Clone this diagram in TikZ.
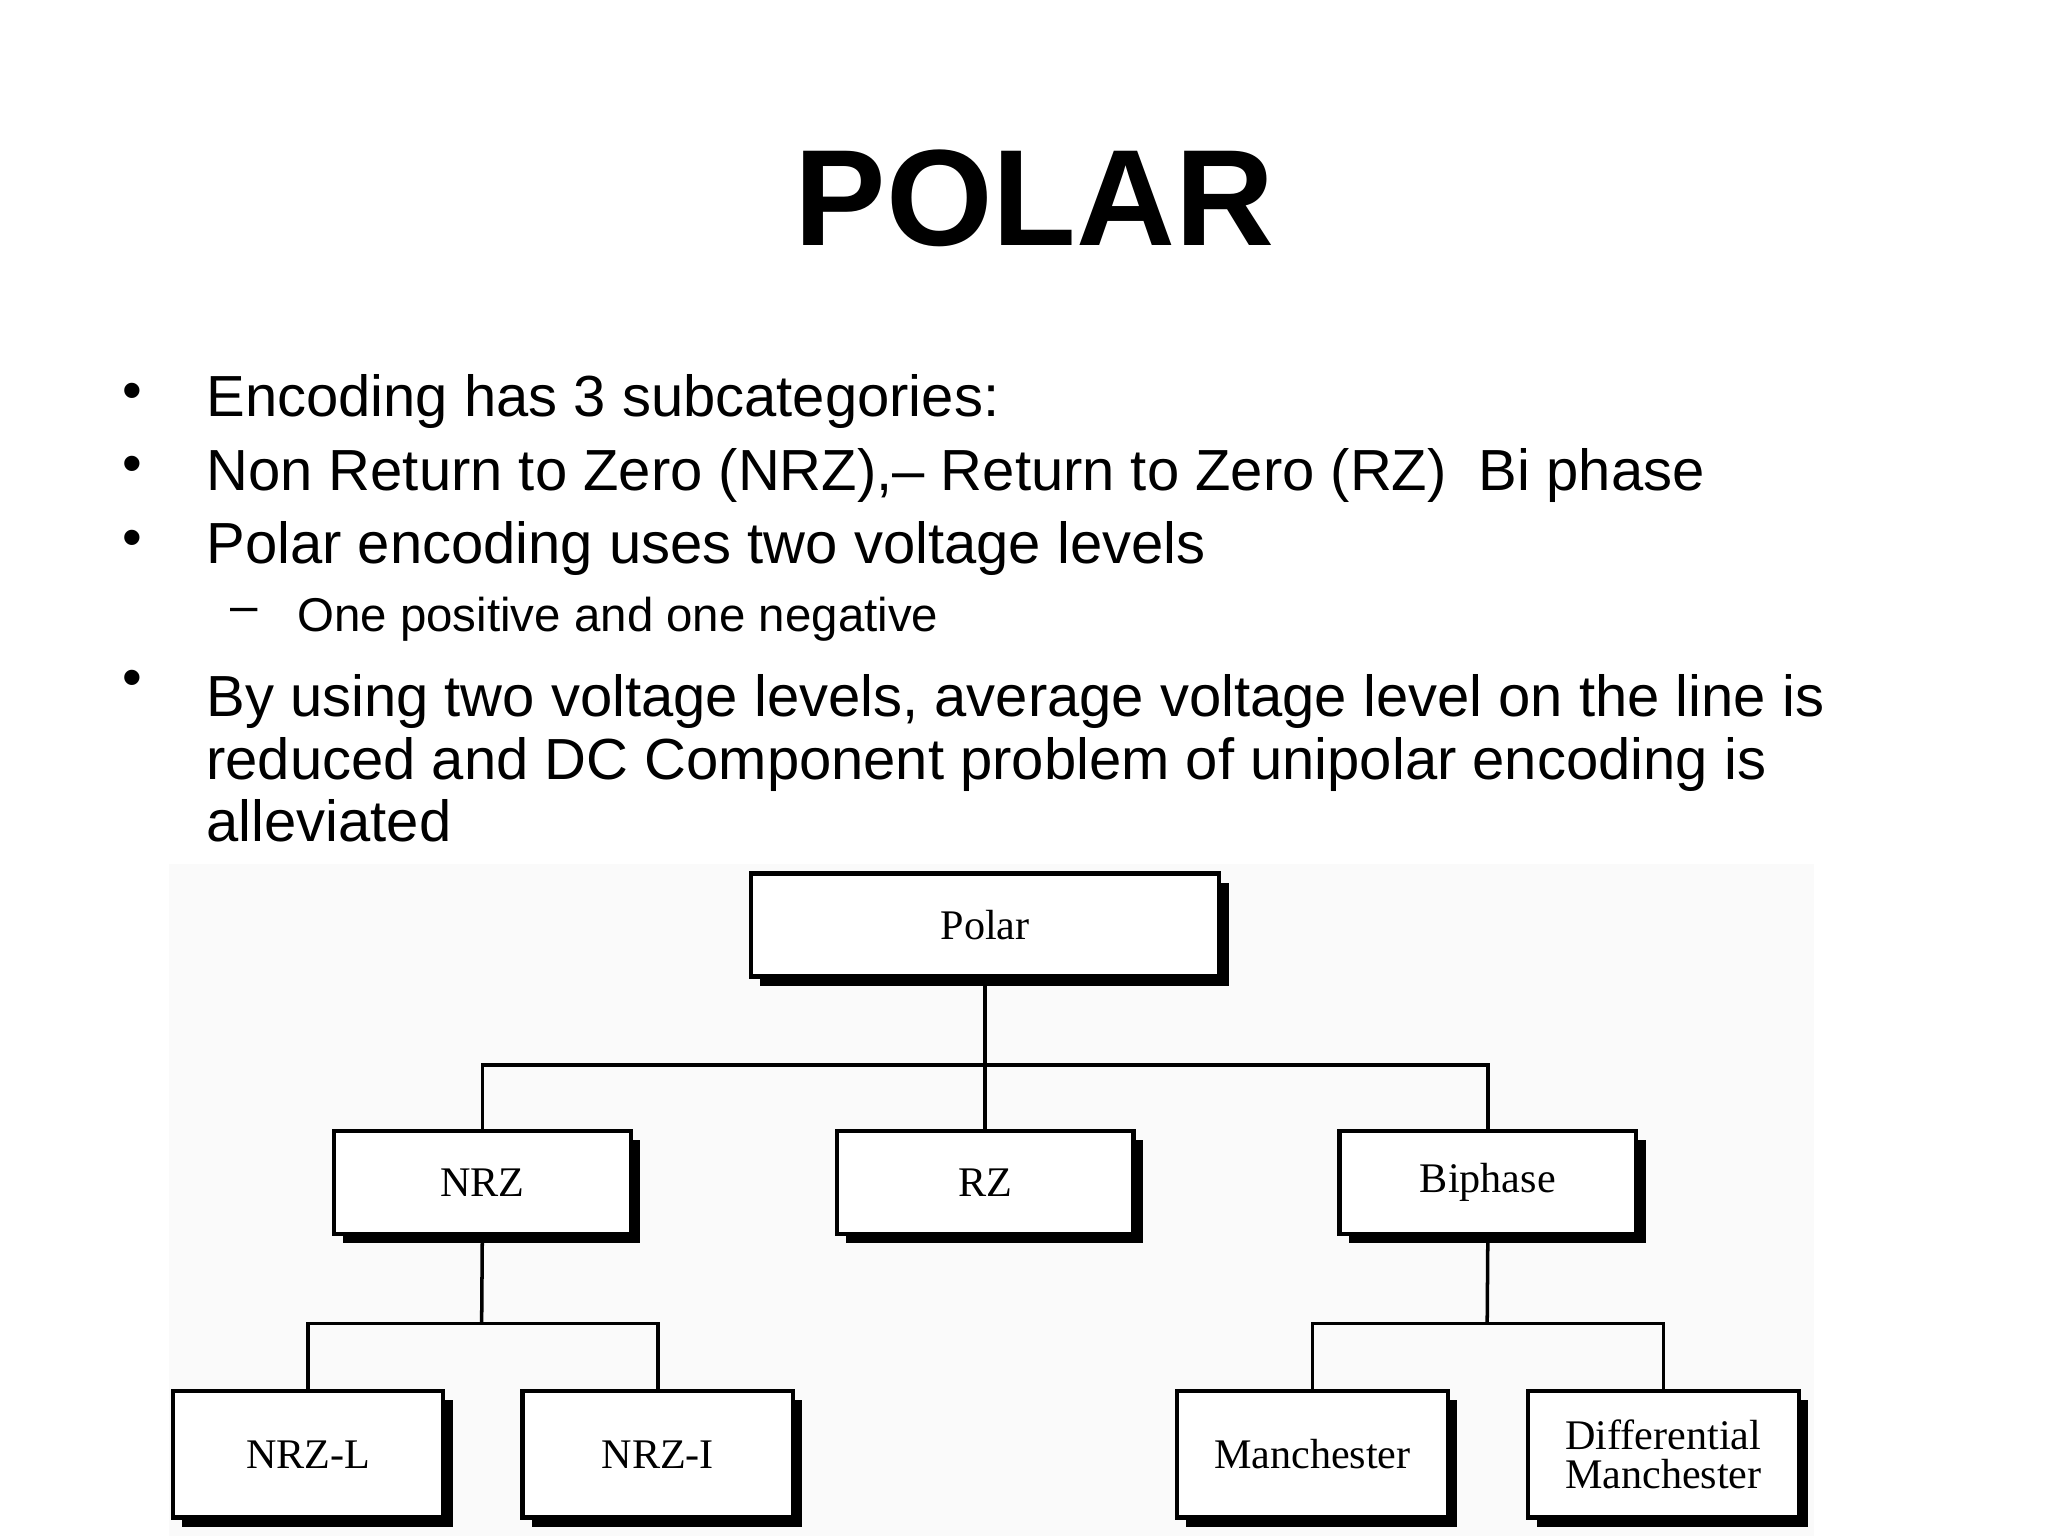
\documentclass[tikz,border=0pt]{standalone}
\usepackage{fontspec}
\setmainfont{Liberation Sans}
\newfontfamily\boxfont{Liberation Serif}
\begin{document}
\begin{tikzpicture}[x=0.013196cm,y=-0.013196cm,
  bx/.style={draw=black,line width=1.2pt,fill=white,align=center,font=\boxfont\fontsize{12}{13}\selectfont,inner sep=0pt},
  sh/.style={fill=black},
  ln/.style={line width=1pt}]
\useasboundingbox (0,0) rectangle (1552,1164);
\fill[white] (0,0) rectangle (1552,1164);
\fill[black!2] (128,655) rectangle (1375,1164);
\node[font=\bfseries\fontsize{39}{40}\selectfont] (title) at (784,150) {POLAR};
\tikzset{bul/.style={anchor=west,font=\fontsize{16.5}{20}\selectfont}}
\node at (100,300) {\fontsize{16}{16}\selectfont•};
\node[bul] (b1) at (147,304) {Encoding has 3 subcategories:};
\node at (100,356) {\fontsize{16}{16}\selectfont•};
\node[bul] (b2) at (147,360) {Non Return to Zero (NRZ),-- Return to Zero (RZ)\ \ Bi phase};
\node at (100,412) {\fontsize{16}{16}\selectfont•};
\node[bul] (b3) at (147,416) {Polar encoding uses two voltage levels};
\node at (185,466) {\fontsize{14}{14}\selectfont –};
\node[anchor=west,font=\fontsize{13.5}{16}\selectfont] (b4) at (216,469) {One positive and one negative};
\node at (100,518) {\fontsize{16}{16}\selectfont•};
\node[bul,anchor=north west,align=left,font=\fontsize{16.5}{17.8}\selectfont] (b5) at (147,502) {By using two voltage levels, average voltage level on the line is\\reduced and DC Component problem of unipolar encoding is\\alleviated};
% boxes
\newcommand{\mybox}[6]{%
  \fill[sh] (#1+7,#2+7) rectangle (#3+7,#4+7);
  \node[bx,minimum width=(#3-#1)*0.013196cm,minimum height=(#4-#2)*0.013196cm] (#5) at ({(#1+#3)/2},{(#2+#4)/2}) {#6};}
\mybox{569}{662}{924}{740}{polar}{Polar}
\mybox{253}{857}{478}{935}{nrz}{NRZ}
\mybox{634}{857}{859}{935}{rz}{RZ}
\mybox{1015}{857}{1240}{935}{bi}{Biphase}
\mybox{131}{1054}{336}{1150}{nrzl}{NRZ-L}
\mybox{396}{1054}{601}{1150}{nrzi}{NRZ-I}
\mybox{892}{1054}{1097}{1150}{man}{Manchester}
\mybox{1158}{1054}{1363}{1150}{dman}{Differential\\[-2pt]Manchester}
\coordinate (j1) at (747,807);
\coordinate (j2) at (365,1003);
\coordinate (j3) at (1127,1003);
\draw[ln] (polar.south) -- (rz.north);
\draw[ln] (nrz.north) |- (j1) -| (bi.north);
\draw[ln] (nrz.south) -- (j2);
\draw[ln] (nrzl.north) |- (j2) -| (nrzi.north);
\draw[ln] (bi.south) -- (j3);
\draw[ln] (man.north) |- (j3) -| (dman.north);
\end{tikzpicture}
\end{document}
